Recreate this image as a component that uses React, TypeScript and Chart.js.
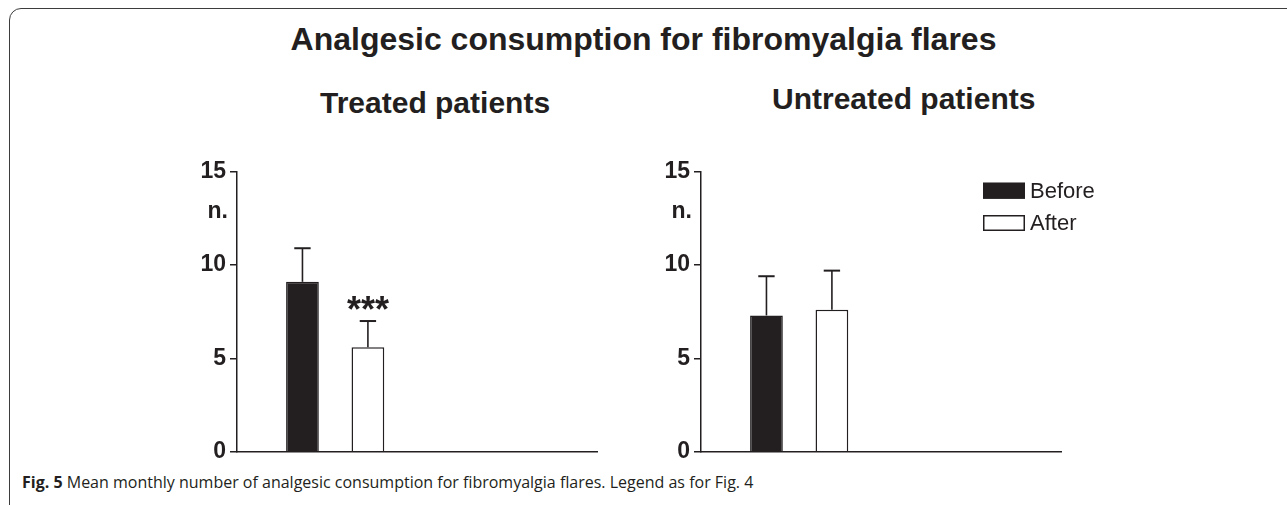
import React, { useEffect, useRef } from "react";
import { Chart, registerables } from "chart.js";

Chart.register(...registerables);

// ---- data ----
const groupLabels = ["Before", "After"];
const groupPositions = [1, 2];
const treatedMeans = [9.1, 5.6];
const treatedSem = [1.8, 1.4];
const treatedMarks = ["", "***"];
const untreatedMeans = [7.3, 7.6];
const untreatedSem = [2.1, 2.1];
const untreatedMarks = ["", ""];
const yTickValues = [0, 5, 10, 15];
const yAxisLabel = "n.";
const mainTitle = "Analgesic consumption for fibromyalgia flares";
const panelTitles = ["Treated patients", "Untreated patients"];
const captionBold = "Fig. 5";
const captionText = " Mean monthly number of analgesic consumption for fibromyalgia flares. Legend as for Fig. 4";

// ---- styles ----
const INK = "#231f20";
const FILLS = [INK, "#ffffff"];
const SANS = "'Liberation Sans', Arial, Helvetica, sans-serif";

function makeOverlay(sems: number[], marks: string[], showLegend: boolean) {
  return {
    id: "overlay",
    afterDatasetsDraw(chart: any) {
      const ctx = chart.ctx;
      const xs = chart.scales.x;
      const ys = chart.scales.y;
      const area = chart.chartArea;
      ctx.save();
      chart.data.datasets.forEach((ds: any, i: number) => {
        const meta = chart.getDatasetMeta(i);
        const bar: any = meta.data[0];
        const pt = ds.data[0];
        const xPix = xs.getPixelForValue(pt.x);
        const yTop = ys.getPixelForValue(pt.y);
        const yErr = ys.getPixelForValue(pt.y + sems[i]);
        const capHalf = bar.width / 4;
        ctx.strokeStyle = INK;
        ctx.lineWidth = 1.6;
        ctx.beginPath();
        ctx.moveTo(xPix, yTop);
        ctx.lineTo(xPix, yErr);
        ctx.stroke();
        ctx.lineWidth = 2;
        ctx.beginPath();
        ctx.moveTo(xPix - capHalf, yErr);
        ctx.lineTo(xPix + capHalf, yErr);
        ctx.stroke();
        if (marks[i]) {
          ctx.fillStyle = INK;
          ctx.font = `bold 36px ${SANS}`;
          ctx.textAlign = "center";
          ctx.textBaseline = "alphabetic";
          ctx.fillText(marks[i], xPix, yErr + 1);
        }
      });
      // y axis label "n."
      ctx.fillStyle = INK;
      ctx.font = `bold 23px ${SANS}`;
      ctx.textAlign = "right";
      ctx.textBaseline = "alphabetic";
      ctx.fillText(yAxisLabel, area.left - 9, area.top + 46.6);
      if (showLegend) {
        const bx = area.left + 282;
        const rowY = [area.top + 11, area.top + 43.3];
        chart.data.datasets.forEach((ds: any, i: number) => {
          const by = rowY[i];
          ctx.fillStyle = ds.backgroundColor;
          ctx.fillRect(bx, by, 42, 16);
          ctx.strokeStyle = INK;
          ctx.lineWidth = 1.5;
          ctx.strokeRect(bx + 0.75, by + 0.75, 40.5, 14.5);
          ctx.fillStyle = INK;
          ctx.font = `22px ${SANS}`;
          ctx.textAlign = "left";
          ctx.textBaseline = "middle";
          ctx.fillText(ds.label, bx + 47, by + 9);
        });
      }
      ctx.restore();
    },
  };
}

function Panel(props: { means: number[]; sems: number[]; marks: string[]; showLegend: boolean; left: number; top: number }) {
  const ref = useRef<HTMLCanvasElement | null>(null);
  useEffect(() => {
    if (!ref.current) return;
    const chart = new Chart(ref.current, {
      type: "bar",
      data: {
        datasets: groupLabels.map((label, i) => ({
          label,
          data: [{ x: groupPositions[i], y: props.means[i] }],
          backgroundColor: FILLS[i],
          borderColor: INK,
          borderWidth: 1.5,
          borderSkipped: "bottom",
          grouped: false,
          barPercentage: 0.5,
          categoryPercentage: 1,
        })) as any,
      },
      options: {
        animation: false,
        responsive: false,
        devicePixelRatio: 1,
        layout: { padding: { left: 27, right: 73, top: 21.7, bottom: 18.3 } },
        plugins: { legend: { display: false }, tooltip: { enabled: false }, title: { display: false } },
        scales: {
          x: {
            type: "linear",
            offset: false,
            min: 0,
            max: 5.5,
            afterBuildTicks: (s: any) => {
              s.ticks = groupPositions.map((v) => ({ value: v }));
            },
            ticks: { display: false },
            grid: { display: false, drawTicks: false },
            border: { display: true, color: INK, width: 1.5 },
          },
          y: {
            min: 0,
            max: 15,
            afterBuildTicks: (s: any) => {
              s.ticks = yTickValues.map((v) => ({ value: v }));
            },
            afterFit: (s: any) => {
              s.width = 60;
            },
            ticks: { color: INK, padding: 4, font: { family: SANS, size: 23, weight: "bold" } },
            grid: { display: true, drawOnChartArea: false, drawTicks: true, tickLength: 7, color: INK, lineWidth: 1.5 },
            border: { display: true, color: INK, width: 1.5 },
          },
        },
      } as any,
      plugins: [makeOverlay(props.sems, props.marks, props.showLegend)],
    });
    return () => chart.destroy();
  }, []);
  return (
    <canvas
      ref={ref}
      width={520}
      height={320}
      style={{ position: "absolute", left: props.left, top: props.top, width: 520, height: 320, display: "block" }}
    />
  );
}

export default function App() {
  return (
    <div style={{ position: "absolute", left: 0, top: 0, width: 1287, height: 505, overflow: "hidden", background: "#fff" }}>
      <div
        style={{
          position: "absolute",
          left: 9,
          top: 8,
          width: 1400,
          height: 520,
          border: "1.5px solid #3d3d3d",
          borderRadius: 12,
          boxSizing: "border-box",
        }}
      />
      <div
        style={{
          position: "absolute",
          left: 0,
          width: 1287,
          textAlign: "center",
          top: 22.9,
          font: `bold 32px/1 ${SANS}`,
          color: INK,
          whiteSpace: "nowrap",
        }}
      >
        {mainTitle}
      </div>
      <div style={{ position: "absolute", left: 320, top: 87.6, font: `bold 30px/1 ${SANS}`, color: INK, whiteSpace: "nowrap" }}>
        {panelTitles[0]}
      </div>
      <div style={{ position: "absolute", left: 772, top: 83.6, font: `bold 30px/1 ${SANS}`, color: INK, whiteSpace: "nowrap" }}>
        {panelTitles[1]}
      </div>
      <Panel means={treatedMeans} sems={treatedSem} marks={treatedMarks} showLegend={false} left={150} top={150} />
      <Panel means={untreatedMeans} sems={untreatedSem} marks={untreatedMarks} showLegend={true} left={614} top={150} />
      <div style={{ position: "absolute", left: 22, top: 474, font: `16px/1 'Open Sans', sans-serif`, color: INK, whiteSpace: "nowrap" }}>
        <b>{captionBold}</b>
        {captionText}
      </div>
    </div>
  );
}
